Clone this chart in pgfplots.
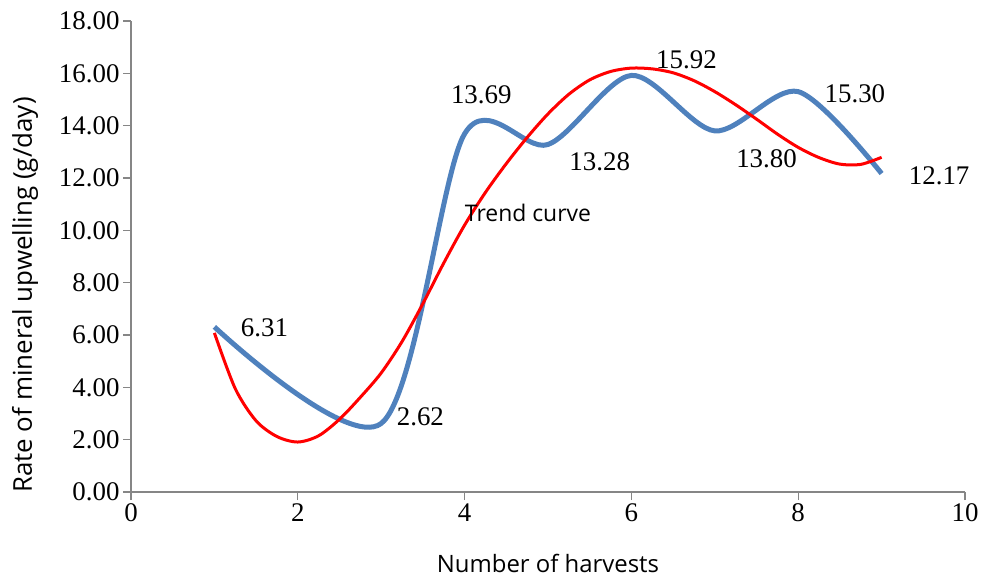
\documentclass[border=0pt]{standalone}
\usepackage{pgfplots}
\pgfplotsset{compat=1.18}
\usepackage{fontspec}
\setmainfont{Liberation Serif}
\newfontfamily\labfont{Open Sans}
\definecolor{blueline}{RGB}{79,129,189}
\definecolor{axgray}{RGB}{134,134,134}
\begin{document}
\begin{tikzpicture}
\path[use as bounding box] (-131bp,-85bp) rectangle (850bp,492bp);
\begin{axis}[
  at={(0,0)}, anchor=south west,
  scale only axis, width=834bp, height=471bp,
  xmin=0, xmax=10, ymin=0, ymax=18,
  xtick={0,2,...,10}, ytick={0,2,...,18},
  axis x line*=bottom, axis y line*=left,
  axis line style={axgray, line width=1.2bp},
  tick style={axgray, line width=1.2bp},
  tick align=outside, major tick length=8bp,
  /pgf/number format/assume math mode=true,
  ticklabel style={font=\fontsize{27}{30}\selectfont, text=black},
  yticklabel style={/pgf/number format/.cd, fixed, fixed zerofill, precision=2},
  xticklabel style={/pgf/number format/.cd, fixed, precision=0},
  xlabel={Number of harvests},
  ylabel={Rate of mineral upwelling (g/day)},
  xlabel style={font=\labfont\fontsize{24}{28}\selectfont, at={(axis description cs:0.5,-0.1507)}, anchor=center},
  ylabel style={font=\labfont\fontsize{26}{30}\selectfont, at={(axis description cs:-0.1271,0.418)}, anchor=center},
  clip=false,
]
\addplot[blueline, line width=5bp, smooth, tension=0.5] coordinates {
  (1,6.31) (3,2.62) (4,13.69) (5,13.28) (6,15.92) (7,13.80) (8,15.30) (9,12.17)
};
\addplot[red, line width=3bp, smooth, tension=0.5] coordinates {
  (1.00,6.08) (1.25,3.95) (1.50,2.72) (1.75,2.12) (2.00,1.91) (2.25,2.15)
  (2.50,2.78) (2.75,3.62) (3.00,4.55) (3.25,5.75) (3.50,7.20) (3.75,8.75)
  (4.00,10.20) (4.25,11.45) (4.50,12.55) (4.75,13.55) (5.00,14.45) (5.25,15.20)
  (5.50,15.75) (5.75,16.07) (6.00,16.20) (6.25,16.17) (6.50,16.02) (6.75,15.72)
  (7.00,15.30) (7.25,14.80) (7.50,14.25) (7.75,13.68) (8.00,13.17) (8.25,12.78)
  (8.50,12.53) (8.75,12.52) (9.00,12.79)
};
\begin{scope}[every node/.style={font=\fontsize{27}{30}\selectfont}]
\node at (axis cs:1.60,6.27) {6.31};
\node at (axis cs:3.47,2.86) {2.62};
\node at (axis cs:4.20,15.19) {13.69};
\node at (axis cs:5.62,12.64) {13.28};
\node at (axis cs:6.66,16.52) {15.92};
\node at (axis cs:7.62,12.75) {13.80};
\node at (axis cs:8.68,15.23) {15.30};
\node at (axis cs:9.69,12.07) {12.17};
\end{scope}
\node[font=\labfont\fontsize{23}{27}\selectfont] at (axis cs:4.76,10.66) {Trend curve};
\end{axis}
\end{tikzpicture}
\end{document}
